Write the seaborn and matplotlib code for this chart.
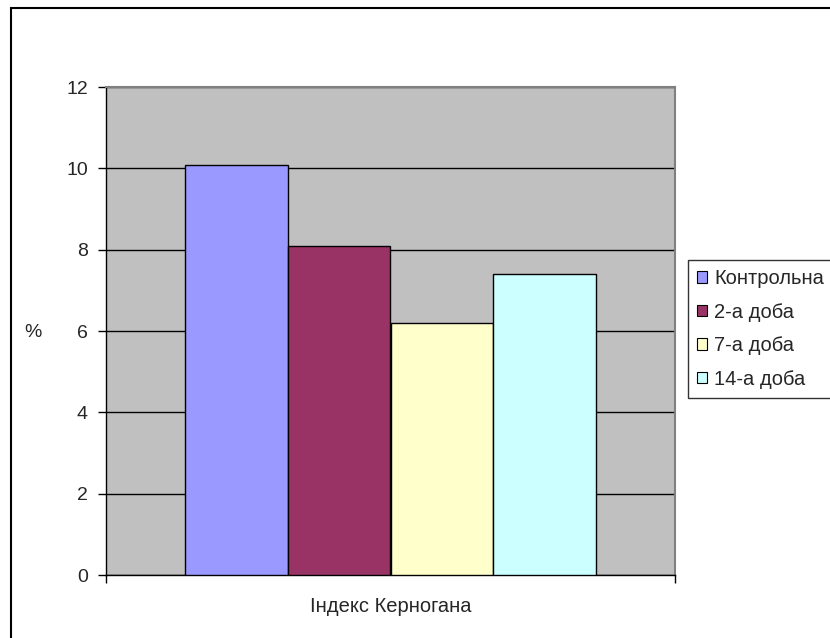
import matplotlib
matplotlib.use("Agg")
import matplotlib.pyplot as plt
from matplotlib.patches import Rectangle, Patch
import pandas as pd
import seaborn as sns

category = ["Індекс Керногана"]
series = ["Контрольна", "2-а доба", "7-а доба", "14-а доба"]
values = [10.08, 8.09, 6.19, 7.40]
colors = ["#9999FF", "#993366", "#FFFFCC", "#CCFFFF"]
yticks = [0, 2, 4, 6, 8, 10, 12]

sns.set_theme(style="white")
plt.rcParams["font.family"] = ["Liberation Sans", "DejaVu Sans"]

FS = 14

df = pd.DataFrame({"cat": category * len(series), "series": series, "value": values})

fig = plt.figure(figsize=(8.3, 6.38), dpi=100)
ax = fig.add_axes([106 / 830, 1 - 575 / 638, (675 - 106) / 830, (575 - 87) / 638])
ax.set_facecolor("#C0C0C0")

sns.barplot(data=df, x="cat", y="value", hue="series", hue_order=series,
            palette=colors, width=0.724, edgecolor="black", linewidth=1.0,
            saturation=1, legend=False, ax=ax, zorder=3)

ax.set_xlim(-0.5, 0.5)
ax.set_ylim(0, 12)
ax.set_yticks(yticks)
ax.yaxis.grid(True, color="black", linewidth=1.0, zorder=1)
ax.set_axisbelow(True)
ax.tick_params(axis="y", direction="out", length=6, width=1, color="black",
               labelsize=FS, pad=7, left=True)
ax.set_xticks([0])
ax.set_xticklabels(category, fontsize=FS + 0.5)
ax.tick_params(axis="x", length=0, pad=16)
ax.set_xticks([-0.5, 0.5], minor=True)
ax.tick_params(axis="x", which="minor", direction="out", length=6, width=1,
               color="black", bottom=True)
ax.set_xlabel("")
ax.set_ylabel("")
fig.text(33 / 830, 1 - 332 / 638, "%", fontsize=FS, ha="center", va="center")

for side in ["left", "bottom"]:
    ax.spines[side].set_color("black")
    ax.spines[side].set_linewidth(1.0)
    ax.spines[side].set_visible(True)
for side in ["top", "right"]:
    ax.spines[side].set_color("#808080")
    ax.spines[side].set_linewidth(1.5)
    ax.spines[side].set_visible(True)

handles = [Patch(facecolor=c, edgecolor="black", linewidth=0.8) for c in colors]
leg = fig.legend(handles, series, loc="upper left",
                 bbox_to_anchor=(688 / 830, 1 - 260 / 638),
                 frameon=True, fancybox=False, fontsize=FS + 0.5,
                 handlelength=0.5, handleheight=0.5, handletextpad=0.35,
                 labelspacing=0.72, borderpad=0.45, borderaxespad=0)
leg.get_frame().set_edgecolor("black")
leg.get_frame().set_linewidth(1.0)

# outer chart border
fig.patches.append(Rectangle((11 / 830, -0.1), 1.2, 1 - 8 / 638 + 0.1,
                             transform=fig.transFigure, fill=False,
                             edgecolor="black", linewidth=1.5, zorder=10))

fig.savefig("out.png", dpi=100)
